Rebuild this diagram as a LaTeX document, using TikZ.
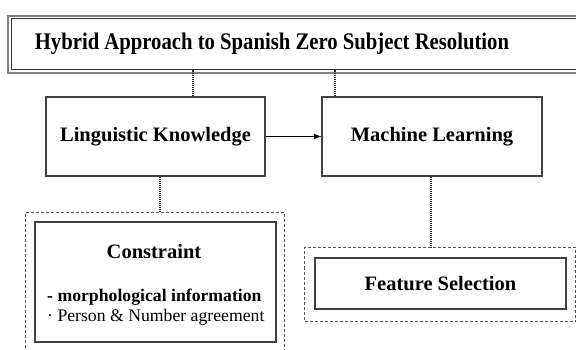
\documentclass[tikz,border=0pt]{standalone}
\usepackage{fontspec}
\setmainfont{Liberation Serif}
\begin{document}
\begin{tikzpicture}[x=1pt,y=-1pt]
    \tikzstyle{box}=[rectangle,draw=black!75,line width=1.2pt,fill=white,font=\bfseries\fontsize{20.5}{24}\selectfont]
    \tikzstyle{group}=[rectangle,draw=black!65,line width=1pt,dash pattern=on 3pt off 2pt]
    \tikzstyle{link}=[black!85,line width=1.3pt,dash pattern=on 1pt off 1pt]
    \tikzstyle{label}=[inner sep=0pt]
    \useasboundingbox (0,0) rectangle (576,350);

    % title frame
    \node[rectangle,draw=gray,line width=2pt,minimum width=583pt,minimum height=57pt,anchor=north west] (outer) at (7,15) {};
    \node[rectangle,draw=black!80,line width=1pt,minimum width=577pt,minimum height=50.5pt,anchor=north west] (frame) at (10.5,18.5) {};
    \node[label,anchor=base,font=\bfseries\fontsize{20.7}{24}\selectfont] (title) at (272,50) {\scalebox{1}[1.15]{Hybrid Approach to Spanish Zero Subject Resolution}};

    \node[box,minimum width=219pt,minimum height=79pt] (lk) at (155.5,136.5) {Linguistic Knowledge};
    \node[box,minimum width=220pt,minimum height=79pt] (ml) at (432,136.5) {Machine Learning};

    \node[group,minimum width=259pt,minimum height=150pt,anchor=north west] (lkgroup) at (25,212) {};
    \node[box,minimum width=241pt,minimum height=120pt] (con) at (155.5,282) {};
    \node[label,anchor=base,font=\bfseries\fontsize{20.5}{24}\selectfont] (contitle) at (154,258) {Constraint};
    \node[label,anchor=base west,font=\bfseries\fontsize{17.7}{20}\selectfont] (morph) at (47,301.7) {- morphological information};
    \node[label,anchor=base west,font=\fontsize{17.7}{20}\selectfont] (agree) at (47,321.7) {· Person \& Number agreement};

    \node[group,minimum width=271pt,minimum height=74pt,anchor=north west] (mlgroup) at (304,247) {};
    \node[box,minimum width=251pt,minimum height=51pt] (fs) at (440.5,283.5) {Feature Selection};

    \draw[link] ([xshift=37.5pt]lk.north) -- ([xshift=37.5pt]lk.north |- frame.south);
    \draw[link] ([xshift=-97pt]ml.north) -- ([xshift=-97pt]ml.north |- frame.south);
    \draw[link] ([xshift=4.5pt]lk.south) -- ([xshift=4.5pt]lk.south |- lkgroup.north);
    \draw[link] ([xshift=-1pt]ml.south) -- ([xshift=-1pt]ml.south |- mlgroup.north);
    \draw[-latex,line width=1.6pt] (lk) -- (ml);
\end{tikzpicture}
\end{document}
